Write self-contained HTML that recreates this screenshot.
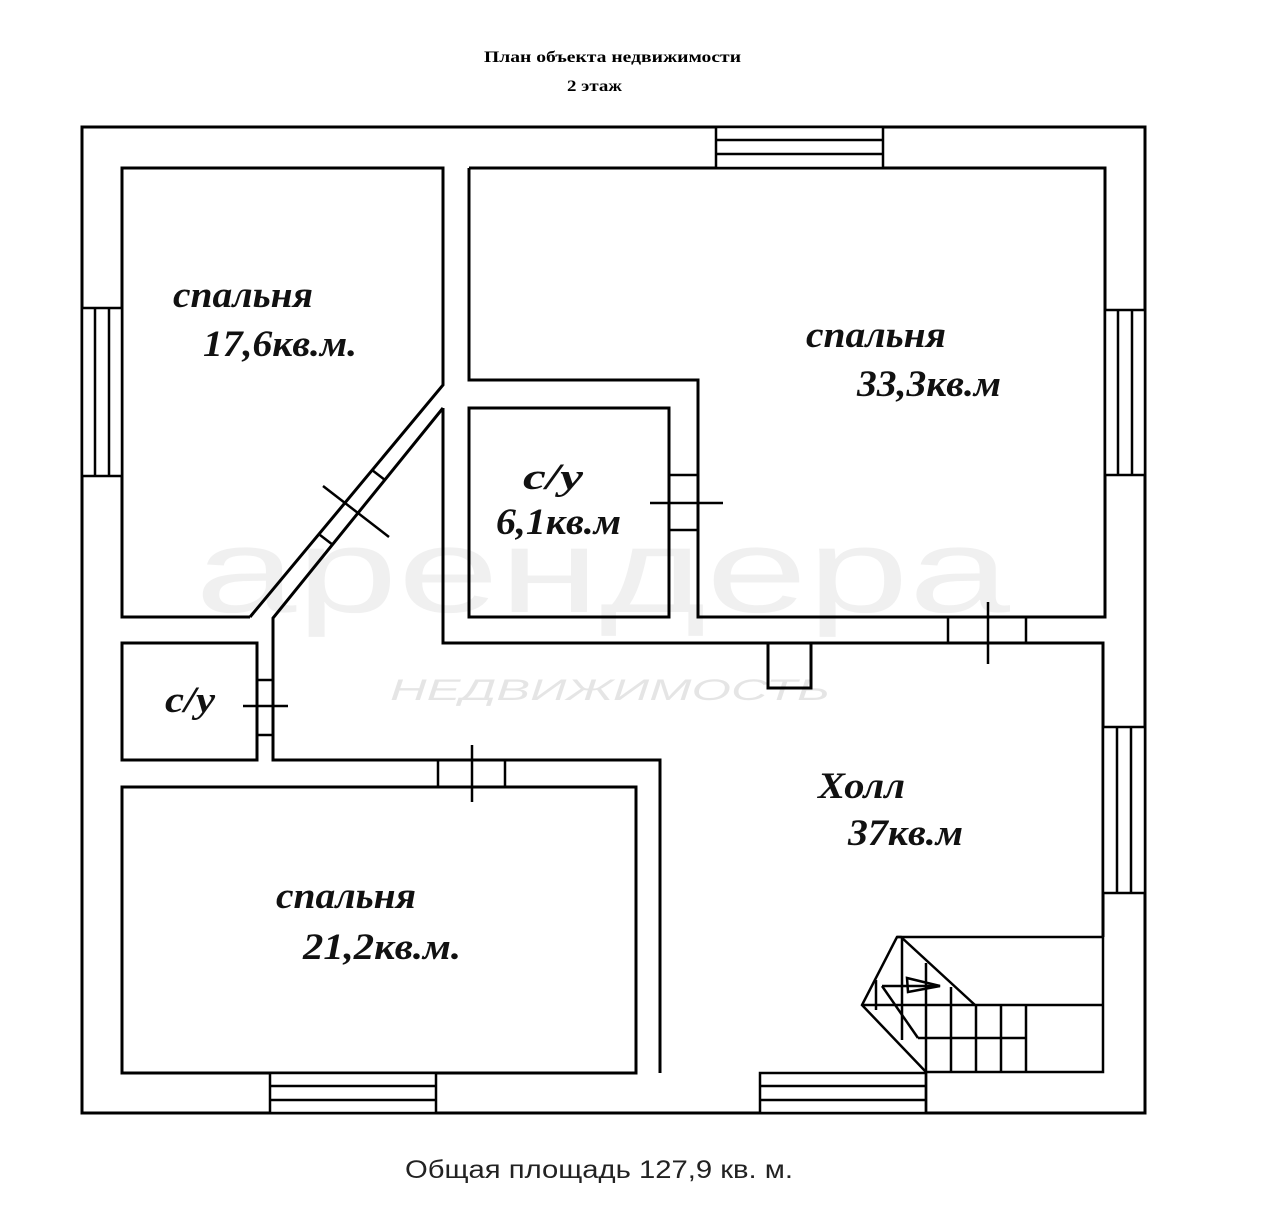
<!DOCTYPE html>
<html><head><meta charset="utf-8"><style>
html,body{margin:0;padding:0;background:#fff;}
svg{display:block}
.l{font-family:"Liberation Serif","DejaVu Serif",serif;font-weight:bold;font-style:italic;font-size:37px;fill:#111}
</style></head><body>
<svg width="1280" height="1216" viewBox="0 0 1280 1216" xmlns="http://www.w3.org/2000/svg">
<text x="484" y="62" textLength="257" lengthAdjust="spacingAndGlyphs" font-family="Liberation Serif,serif" font-weight="bold" font-size="16">План объекта недвижимости</text>
<text x="567" y="91" textLength="55" lengthAdjust="spacingAndGlyphs" font-family="Liberation Serif,serif" font-weight="bold" font-size="16">2 этаж</text>
<text x="405" y="1178" textLength="388" lengthAdjust="spacingAndGlyphs" font-family="Liberation Sans,sans-serif" font-size="25" fill="#222">Общая площадь 127,9 кв. м.</text>

<text x="195" y="612" textLength="815" lengthAdjust="spacingAndGlyphs" font-family="Liberation Sans,sans-serif" font-size="120" fill="#000" fill-opacity="0.06">арендера</text>
<text x="390" y="700" textLength="440" lengthAdjust="spacingAndGlyphs" font-family="Liberation Sans,sans-serif" font-style="italic" font-size="30" fill="#000" fill-opacity="0.1">НЕДВИЖИМОСТЬ</text>

<g fill="none" stroke="#000" stroke-width="3">
<rect x="82" y="127" width="1063" height="986"/>
<polyline points="250,617 122,617 122,168 443,168 443,385 250,617"/>
<polyline points="443,408 273,618 273,760 660,760 660,1073"/>
<polyline points="469,168 1105,168 1105,617 698,617 698,380 469,380 469,168"/>
<rect x="469" y="408" width="200" height="209"/>
<polyline points="443,408 443,643 1103,643 1103,937"/>
<rect x="122" y="643" width="135" height="117"/>
<rect x="122" y="787" width="514" height="286"/>
<polyline points="768,643 768,688 811,688 811,643"/>
</g>

<g fill="none" stroke="#000" stroke-width="2.5">
<rect x="82" y="308" width="40" height="168" fill="#fff"/>
<line x1="95" y1="308" x2="95" y2="476"/><line x1="109" y1="308" x2="109" y2="476"/>
<rect x="716" y="127" width="167" height="41" fill="#fff"/>
<line x1="716" y1="140" x2="883" y2="140"/><line x1="716" y1="154" x2="883" y2="154"/>
<rect x="1105" y="310" width="40" height="165" fill="#fff"/>
<line x1="1118" y1="310" x2="1118" y2="475"/><line x1="1132" y1="310" x2="1132" y2="475"/>
<rect x="1103" y="727" width="42" height="166" fill="#fff"/>
<line x1="1117" y1="727" x2="1117" y2="893"/><line x1="1131" y1="727" x2="1131" y2="893"/>
<rect x="270" y="1073" width="166" height="40" fill="#fff"/>
<line x1="270" y1="1086" x2="436" y2="1086"/><line x1="270" y1="1100" x2="436" y2="1100"/>
<rect x="760" y="1073" width="166" height="40" fill="#fff"/>
<line x1="760" y1="1086" x2="926" y2="1086"/><line x1="760" y1="1100" x2="926" y2="1100"/>

<line x1="669" y1="475" x2="698" y2="475"/><line x1="669" y1="530" x2="698" y2="530"/>
<line x1="650" y1="503" x2="723" y2="503"/>
<line x1="257" y1="680" x2="273" y2="680"/><line x1="257" y1="735" x2="273" y2="735"/>
<line x1="243" y1="706" x2="288" y2="706"/>
<line x1="438" y1="760" x2="438" y2="787"/><line x1="505" y1="760" x2="505" y2="787"/>
<line x1="472" y1="745" x2="472" y2="802"/>
<line x1="948" y1="617" x2="948" y2="643"/><line x1="1026" y1="617" x2="1026" y2="643"/>
<line x1="988" y1="602" x2="988" y2="664"/>
<line x1="372" y1="470" x2="385" y2="480"/><line x1="320" y1="535" x2="333" y2="545"/>
<line x1="323" y1="486" x2="389" y2="537"/>

<polyline points="897,937 1103,937 1103,1072 926,1072"/>
<line x1="862" y1="1005" x2="1103" y2="1005"/>
<polyline points="926,1112 926,1072 862,1005 897,937 901,937 975,1005"/>
<line x1="902" y1="937" x2="902" y2="1040"/>
<line x1="926" y1="963" x2="926" y2="1072"/>
<line x1="951" y1="987" x2="951" y2="1072"/>
<line x1="976" y1="1005" x2="976" y2="1072"/>
<line x1="1001" y1="1005" x2="1001" y2="1072"/>
<line x1="1026" y1="1005" x2="1026" y2="1072"/>
<line x1="918" y1="1038" x2="1026" y2="1038"/>
<line x1="882" y1="986" x2="918" y2="1038"/>
<line x1="876" y1="980" x2="876" y2="1010"/>
<line x1="882" y1="986" x2="940" y2="986"/>
<polygon points="907,978 940,986 908,992"/>
</g>

<text class="l" x="173" y="307" textLength="140" lengthAdjust="spacingAndGlyphs">спальня</text>
<text class="l" x="203" y="356" textLength="154" lengthAdjust="spacingAndGlyphs">17,6кв.м.</text>
<text class="l" x="806" y="347" textLength="140" lengthAdjust="spacingAndGlyphs">спальня</text>
<text class="l" x="857" y="396" textLength="144" lengthAdjust="spacingAndGlyphs">33,3кв.м</text>
<text class="l" x="523" y="489" textLength="60" lengthAdjust="spacingAndGlyphs">с/у</text>
<text class="l" x="496" y="534" textLength="125" lengthAdjust="spacingAndGlyphs">6,1кв.м</text>
<text class="l" x="165" y="712" textLength="50" lengthAdjust="spacingAndGlyphs">с/у</text>
<text class="l" x="818" y="798" textLength="87" lengthAdjust="spacingAndGlyphs">Холл</text>
<text class="l" x="848" y="845" textLength="115" lengthAdjust="spacingAndGlyphs">37кв.м</text>
<text class="l" x="276" y="908" textLength="140" lengthAdjust="spacingAndGlyphs">спальня</text>
<text class="l" x="303" y="959" textLength="158" lengthAdjust="spacingAndGlyphs">21,2кв.м.</text>
</svg>
</body></html>
